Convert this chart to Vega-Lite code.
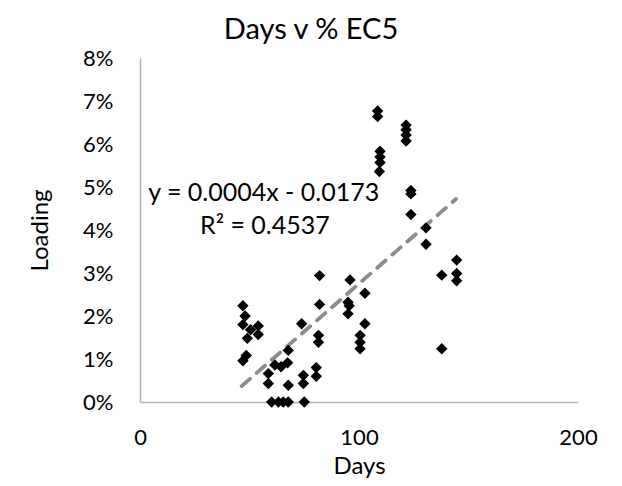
{
  "$schema": "https://vega.github.io/schema/vega-lite/v6.json",
  "width": 438,
  "height": 344,
  "autosize": {"type": "none"},
  "padding": {"left": 140, "top": 58, "right": 44, "bottom": 84},
  "background": "white",
  "title": {"text": "Days v % EC5", "fontSize": 29, "font": "Lato", "fontWeight": "normal", "color": "#000000", "anchor": "middle", "dx": -48, "offset": 2},
  "config": {
    "view": {"stroke": null},
    "axis": {"grid": false, "ticks": false, "domainColor": "#b3b3b3", "domainWidth": 1.5, "labelFont": "Lato", "titleFont": "Lato", "labelFontSize": 22, "titleFontSize": 24, "labelColor": "#000000", "titleColor": "#000000", "titleFontWeight": "normal", "labelFlush": false}
  },
  "datasets": {
    "pts": [
      {"days": 47, "loading": 0.0224}, {"days": 48, "loading": 0.0200}, {"days": 47, "loading": 0.0180},
      {"days": 54, "loading": 0.0177}, {"days": 50.5, "loading": 0.0168}, {"days": 49, "loading": 0.0148},
      {"days": 54, "loading": 0.0157}, {"days": 48.5, "loading": 0.0108}, {"days": 47, "loading": 0.0096},
      {"days": 58.6, "loading": 0.0066}, {"days": 58.6, "loading": 0.0043}, {"days": 61.6, "loading": 0.0086},
      {"days": 64.4, "loading": 0.0082}, {"days": 67.4, "loading": 0.0091}, {"days": 67.7, "loading": 0.0120},
      {"days": 67.7, "loading": 0.0039}, {"days": 60.1, "loading": 0}, {"days": 63.2, "loading": 0},
      {"days": 65.4, "loading": 0}, {"days": 67.7, "loading": 0}, {"days": 74.6, "loading": 0.0062},
      {"days": 74.6, "loading": 0.0043}, {"days": 75, "loading": 0}, {"days": 73.8, "loading": 0.0182},
      {"days": 80.5, "loading": 0.0080}, {"days": 80.5, "loading": 0.0060}, {"days": 81.5, "loading": 0.0155},
      {"days": 81.5, "loading": 0.0139}, {"days": 82, "loading": 0.0227}, {"days": 82, "loading": 0.0294},
      {"days": 95.9, "loading": 0.0284}, {"days": 95, "loading": 0.0232}, {"days": 95.5, "loading": 0.0224},
      {"days": 95, "loading": 0.0205}, {"days": 102.7, "loading": 0.0253}, {"days": 102.7, "loading": 0.0182},
      {"days": 100.5, "loading": 0.0155}, {"days": 100.5, "loading": 0.0139}, {"days": 100.5, "loading": 0.0124},
      {"days": 108.5, "loading": 0.0677}, {"days": 108.5, "loading": 0.0664}, {"days": 109.6, "loading": 0.0583},
      {"days": 109.6, "loading": 0.0570}, {"days": 109.6, "loading": 0.0557}, {"days": 109.3, "loading": 0.0536},
      {"days": 121.5, "loading": 0.0644}, {"days": 121.5, "loading": 0.0633}, {"days": 121.5, "loading": 0.0621},
      {"days": 121.5, "loading": 0.0607}, {"days": 123.7, "loading": 0.0492}, {"days": 123.7, "loading": 0.0484},
      {"days": 123.7, "loading": 0.0436}, {"days": 130.6, "loading": 0.0405}, {"days": 130.6, "loading": 0.0367},
      {"days": 144.6, "loading": 0.0330}, {"days": 144.6, "loading": 0.0299}, {"days": 144.6, "loading": 0.0282},
      {"days": 137.8, "loading": 0.0295}, {"days": 137.8, "loading": 0.0124}
    ],
    "trend": [
      {"days": 46.4, "loading": 0.0037},
      {"days": 144.3, "loading": 0.0472}
    ],
    "labels": [
      {"days": 56.5, "loading": 0.0487, "text": "y = 0.0004x - 0.0173"},
      {"days": 57, "loading": 0.0410, "text": "R² = 0.4537"}
    ]
  },
  "layer": [
    {
      "data": {"name": "trend"},
      "mark": {"type": "line", "color": "#8c8c8c", "strokeWidth": 3.8, "strokeDash": [11, 9], "strokeCap": "round"},
      "encoding": {
        "x": {"field": "days", "type": "quantitative", "scale": {"domain": [0, 200]},
              "axis": {"values": [0, 100, 200], "title": "Days", "labelPadding": 25, "titlePadding": 6}},
        "y": {"field": "loading", "type": "quantitative", "scale": {"domain": [0, 0.08]},
              "axis": {"values": [0, 0.01, 0.02, 0.03, 0.04, 0.05, 0.06, 0.07, 0.08], "format": ".0%", "title": "Loading", "labelPadding": 27, "titlePadding": 30}}
      }
    },
    {
      "data": {"name": "pts"},
      "mark": {"type": "point", "shape": "diamond", "filled": true, "color": "#000000", "size": 130, "opacity": 1},
      "encoding": {
        "x": {"field": "days", "type": "quantitative"},
        "y": {"field": "loading", "type": "quantitative"}
      }
    },
    {
      "data": {"name": "labels"},
      "mark": {"type": "text", "font": "Lato", "fontSize": 25, "color": "#000000", "align": "center", "baseline": "middle"},
      "encoding": {
        "x": {"field": "days", "type": "quantitative"},
        "y": {"field": "loading", "type": "quantitative"},
        "text": {"field": "text"}
      }
    }
  ]
}
